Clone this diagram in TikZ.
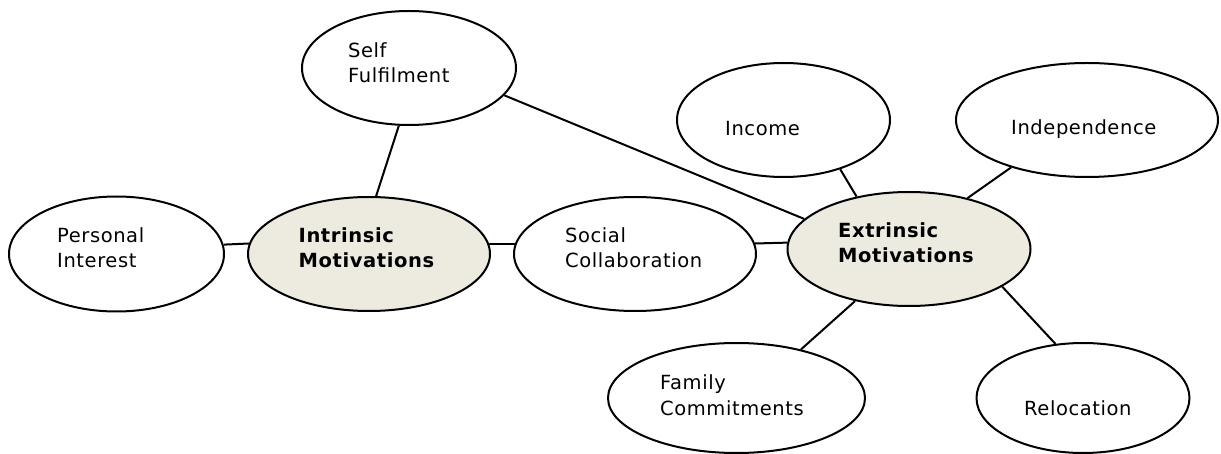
\documentclass[tikz,border=0pt]{standalone}
\usepackage{fontspec}
\setmainfont{DejaVu Sans}[LetterSpace=3]
\usetikzlibrary{shapes.geometric}
\definecolor{corefill}{HTML}{EDEBE0}
\begin{document}
\begin{tikzpicture}[x=1pt,y=-1pt,
  ell/.style={ellipse,draw=black,line width=2pt,fill=white,inner sep=0pt},
  core/.style={ell,fill=corefill},
  lbl/.style={anchor=base west,inner sep=0pt,align=left,
    font=\fontsize{19.5}{25.5}\selectfont},
  blbl/.style={lbl,font=\fontsize{19.5}{25.5}\selectfont\bfseries},
  link/.style={line width=2pt,draw=black}]
\useasboundingbox (0,0) rectangle (1221,454);
% ellipses
\node[ell, minimum width=214pt, minimum height=114pt] (self) at (409,68) {};
\node[ell, minimum width=215pt, minimum height=115pt] (pers) at (116.5,254) {};
\node[core,minimum width=242pt, minimum height=114pt] (intr) at (369,254) {};
\node[ell, minimum width=242pt, minimum height=114pt] (soc) at (635,254) {};
\node[ell, minimum width=213pt, minimum height=114pt] (inc) at (783.5,120) {};
\node[ell, minimum width=262pt, minimum height=114pt] (ind) at (1087,120) {};
\node[core,minimum width=243pt, minimum height=114pt] (ext) at (909,249) {};
\node[ell, minimum width=257pt, minimum height=110pt] (fam) at (736.5,398) {};
\node[ell, minimum width=213pt, minimum height=110pt] (rel) at (1083,398) {};
% connectors
\draw[link] (self.260) -- (intr.83);
\draw[link] (self.344) -- (ext.164);
\draw[link] (pers.5) -- (intr.175);
\draw[link] (intr.5) -- (soc.175);
\draw[link] (soc.5) -- (ext.177);
\draw[link] (inc.319) -- (ext.135);
\draw[link] (ind.212) -- (ext.41.6);
\draw[link] (ext.224) -- (fam.37);
\draw[link] (ext.338.4) -- (rel.117.4);
% labels (base = baseline of last line)
\node[lbl]  (selft) at (348,83)   {Self\\Fulfilment};
\node[lbl]  (perst) at (57,268)   {Personal\\Interest};
\node[blbl] (intrt) at (298.5,268) {Intrinsic\\Motivations};
\node[lbl]  (soct)  at (565,268)  {Social\\Collaboration};
\node[lbl]  (inct)  at (725,136)  {Income};
\node[lbl]  (indt)  at (1011,135) {Independence};
\node[blbl] (extt)  at (838,263)  {Extrinsic\\Motivations};
\node[lbl]  (famt)  at (660,415)  {Family\\Commitments};
\node[lbl]  (relt)  at (1024,415) {Relocation};
\end{tikzpicture}
\end{document}
